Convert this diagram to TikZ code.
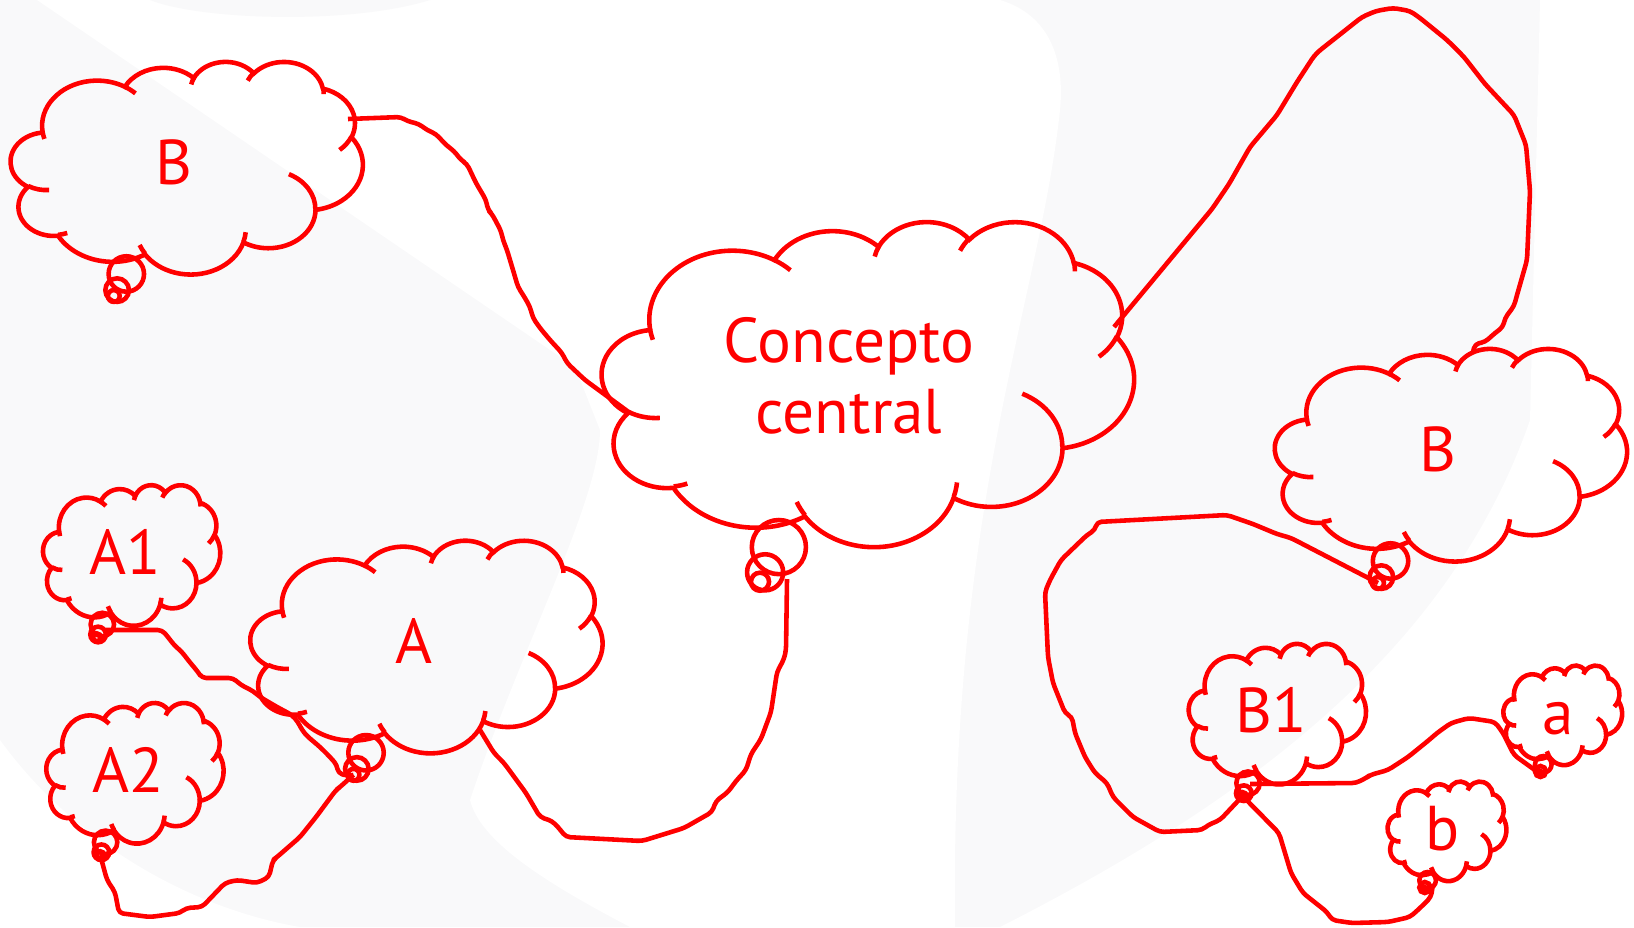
\documentclass[tikz,border=0pt]{standalone}
\usepackage{fontspec}
\setmainfont{PT Sans}
\usetikzlibrary{calc}

\definecolor{ink}{RGB}{255,0,0}
\definecolor{paper}{RGB}{249,249,250}

% angle on the ellipse (radii #1,#2) seen from its centre -> parameter angle
\newcommand\oa[3]{(#3+Mod(atan2(#1*sin(#3),#2*cos(#3))-(#3)+540,360)-180)}
\newcommand\oarc[4]{arc[start angle=\oa{#1}{#2}{#3}, end angle=\oa{#1}{#2}{#4}, x radius=#1/216/100, y radius=#2/216/100]}

\tikzset{
  thought/.style={draw=ink, line width=1.3pt},
  link/.style={draw=ink, line width=1.3pt, line join=round, rounded corners=1.2pt},
  word/.style={text=ink, font=\fontsize{18}{20}\selectfont, align=center, inner sep=0pt},
  cloud/.pic={
    \draw[thought] (-0.81944,-0.33472)
      \oarc{6753}{9190}{-190.48748}{-66.70695}
      \oarc{5333}{7267}{-144.10238}{-54.15715}
      \oarc{4365}{5945}{-145.80792}{-46.0849}
      \oarc{4857}{6595}{-130.98607}{-13.74434}
      \oarc{5333}{7273}{-78.70888}{30.31804}
      \oarc{6775}{9220}{-46.26725}{84.00175}
      \oarc{5785}{7867}{0.62502}{114.65835}
      \oarc{6752}{9215}{22.4516}{137.62415}
      \oarc{7720}{10543}{66.24263}{141.95365}
      \oarc{4360}{5918}{-274.94208}{-128.20651}
      \oarc{4345}{5945}{-246.8285}{-94.30965}
      -- cycle;
    \draw[thought]
      (-0.78273,0.21190) \oarc{4345}{5945}{86.742}{113.1715}
      (-0.67926,0.61569) \oarc{4360}{5918}{73.61047}{85.05794}
      (-0.23713,0.80972) \oarc{6752}{9215}{137.62415}{151.70526}
      (0.33458,0.60884) \oarc{6752}{9215}{6.45327}{22.45162}
      (0.58005,0.06269) \oarc{5785}{7867}{-70.29235}{0.62502}
      (0.93509,-0.28917) \oarc{5333}{7273}{30.31803}{58.06953}
      (0.77426,-0.74880) \oarc{4857}{6595}{-13.74433}{1.1146}
      (0.34620,-0.81704) \oarc{4857}{6595}{-149.18145}{-130.98608}
      (0.02505,-0.78148) \oarc{4365}{5945}{-163.49427}{-145.80785}
      (-0.35185,-0.75963) \oarc{6753}{9190}{-66.70695}{-54.3875}
      (-0.80894,-0.26903) \oarc{6753}{9190}{157.65435}{169.51252};
  }
}

% #1 name, (#2,#3) centre, #4/#5 half width/height, (#6,#7) tail tip from centre, #8 text
\newcommand\thought[8]{%
  \pgfmathsetmacro\tailk{min(#4,#5)/50}%
  \pgfmathsetmacro\taill{veclen((#6)/100,(#7)/100)}%
  \pgfmathsetmacro\tailx{-(#6)/100/\taill}%
  \pgfmathsetmacro\taily{-(#7)/100/\taill}%
  \pgfmathsetmacro\tailr{1/sqrt((\tailx*100/#4)^2+(\taily*100/#5)^2)}%
  \pgfmathsetmacro\tailg{(\taill-\tailr-\tailk*0.305556)/3}%
  \pgfmathsetmacro\tailm{100*(\tailg+\tailk/12)}%
  \pgfmathsetmacro\tailb{100*(2*\tailg+\tailk*0.222222)}%
  \pic[xscale=#4, yscale=#5] at (#2,#3) {cloud};
  \coordinate (#1-tip) at ({#2+(#6)},{#3+(#7)});
  \draw[thought] (#1-tip) circle[radius={100*\tailk/36}];
  \draw[thought] ($(#1-tip)+({\tailm*\tailx},{\tailm*\taily})$) circle[radius={100*\tailk/18}];
  \draw[thought] ($(#1-tip)+({\tailb*\tailx},{\tailb*\taily})$) circle[radius={100*\tailk/12}];
  \node[word] (#1) at ({#2-0.0713*#4},{#3-0.0463*#5}) {#8};
}

\begin{document}
\begin{tikzpicture}[x=0.01cm, y=-0.01cm]
  \useasboundingbox (0,0) rectangle (1634,927);

  % faint backdrop
  \fill[paper] (0,0) rectangle (1634,927);
  \fill[white] (37,0) -- (1000,0) .. controls (1050,15) and (1065,60) .. (1060,110)
    .. controls (1040,300) and (950,500) .. (955,927) -- (630,927)
    .. controls (540,880) and (480,840) .. (470,800)
    .. controls (520,650) and (600,500) .. (600,430) -- (575,367) -- cycle;
  \fill[paper] (150,0) .. controls (200,20) and (350,25) .. (430,0) -- cycle;
  \fill[white] (1000,927) .. controls (1250,800) and (1450,650) .. (1530,420)
    -- (1540,0) -- (1634,0) -- (1634,927) -- cycle;
  \fill[white] (0,740) .. controls (80,850) and (200,910) .. (300,927) -- (0,927) -- cycle;

  % clouds
  \thought{cc}{868}{383.5}{266}{162.5}{-108}{198.2}{Concepto\\central}
  \thought{Bl}{186.8}{167.5}{176}{106.3}{-73}{128.5}{B}
  \thought{Br}{1451}{454.5}{176}{106.3}{-73}{128.5}{B}
  \thought{A}{426.5}{646.3}{176}{106.3}{-73}{128.5}{A}
  \thought{A1}{131.7}{555}{88.6}{70.3}{-34.8}{82.3}{A1}
  \thought{A2}{135}{772.8}{88.6}{70.3}{-34.8}{82.3}{A2}
  \thought{B1}{1277.4}{713.7}{88.6}{70.3}{-34.8}{82.3}{B1}
  \thought{a}{1562.7}{715}{59.4}{49.8}{-23}{58.5}{\vphantom{B}a}
  \thought{b}{1447}{831}{59.4}{49.8}{-23}{58.5}{b}

  % ends of the links
  \coordinate (Bl-e) at (348,119);
  \coordinate (cc-w) at (630,413);
  \coordinate (cc-ne) at (1114,327);
  \coordinate (Br-n) at (1473,352);
  \coordinate (cc-s) at (787,579);
  \coordinate (A-se) at (480,730);
  \coordinate (B1-e) at (1250,784);
  \coordinate (b-ne) at (1433,884);
  \coordinate (A1-e) at (106,630);

  % links
  \draw[link] (Bl-e) -- (401,117) -- (407,121) -- (419,124) -- (427,130) -- (436,134)
    -- (446,145) -- (454,151) -- (461,160) -- (467,164) -- (476,183) -- (486,200)
    -- (488,210) -- (492,214) -- (501,231) -- (503,240) -- (507,250) -- (513,270)
    -- (518,287) -- (525,298) -- (530,307) -- (533,318) -- (540,328) -- (550,340)
    -- (562,353) -- (567,363) -- (585,380) -- (cc-w);
  \draw[link] (cc-ne) -- (1212,209) -- (1229,184) -- (1250,147) -- (1277,115)
    -- (1297,82) -- (1314,56) -- (1319,51) -- (1338,36) -- (1362,17) -- (1376,11)
    -- (1393,8) -- (1410,11) -- (1420,18) -- (1447,40) -- (1464,57) -- (1485,84)
    -- (1514,115) -- (1526,145) -- (1530,191) -- (1527,260) -- (1517,295) -- (1514,306)
    -- (1505,318) -- (1503,327) -- (1495,333) -- (1485,342) -- (1475,344) -- (Br-n);
  \draw[link] (cc-s) -- (786,650) -- (784,659) -- (777,672) -- (771,712) -- (761,739)
    -- (751,754) -- (746,770) -- (736,781) -- (728,792) -- (716,801) -- (712,812)
    -- (684,828) -- (642,841) -- (566,837) -- (558,827) -- (552,821) -- (540,817)
    -- (526,793) -- (504,763) -- (494,753) -- (A-se);
  \draw[link] (Br-tip) -- (1291,538) -- (1277,534) -- (1253,524) -- (1227,515)
    -- (1097,522) -- (1095,530) -- (1087,535) -- (1061,560) -- (1050,580) -- (1045,592)
    -- (1048,657) -- (1053,683) -- (1065,713) -- (1072,717) -- (1075,733) -- (1085,757)
    -- (1095,773) -- (1107,783) -- (1113,797) -- (1133,817) -- (1160,832) -- (1202,830)
    -- (1208,825) -- (1220,820) -- (B1-tip);
  \draw[link] (B1-e) -- (1356,783) -- (1366,778) -- (1370,775) -- (1388,770)
    -- (1408,757) -- (1429,740) -- (1437,733) -- (1451,723) -- (1469,718) -- (1495,722)
    -- (1503,733) -- (1514,755) -- (a-tip);
  \draw[link] (B1-tip) -- (1279,833) -- (1291,873) -- (1303,893) -- (1327,912)
    -- (1332,920) -- (1352,923) -- (1388,922) -- (1410,917) -- (1420,908) -- (1431,897)
    -- (b-ne);
  \draw[link] (A1-e) -- (162,630) -- (168,637) -- (174,645) -- (182,652) -- (188,660)
    -- (198,672) -- (202,678) -- (233,678) -- (241,685) -- (253,691) -- (260,697)
    -- (277,707) -- (292,715) -- (298,722) -- (302,730) -- (307,736) -- (320,747)
    -- (330,757) -- (337,765) -- (338,773) -- (348,776) -- (A-tip);
  \draw[link] (A2-tip) -- (107,880) -- (115,892) -- (119,913) -- (150,917) -- (180,913)
    -- (186,908) -- (202,907) -- (225,883) -- (237,880) -- (257,883) -- (269,877)
    -- (273,860) -- (277,857) -- (300,837) -- (316,817) -- (336,790) -- (340,787)
    -- (A-tip);
\end{tikzpicture}
\end{document}
